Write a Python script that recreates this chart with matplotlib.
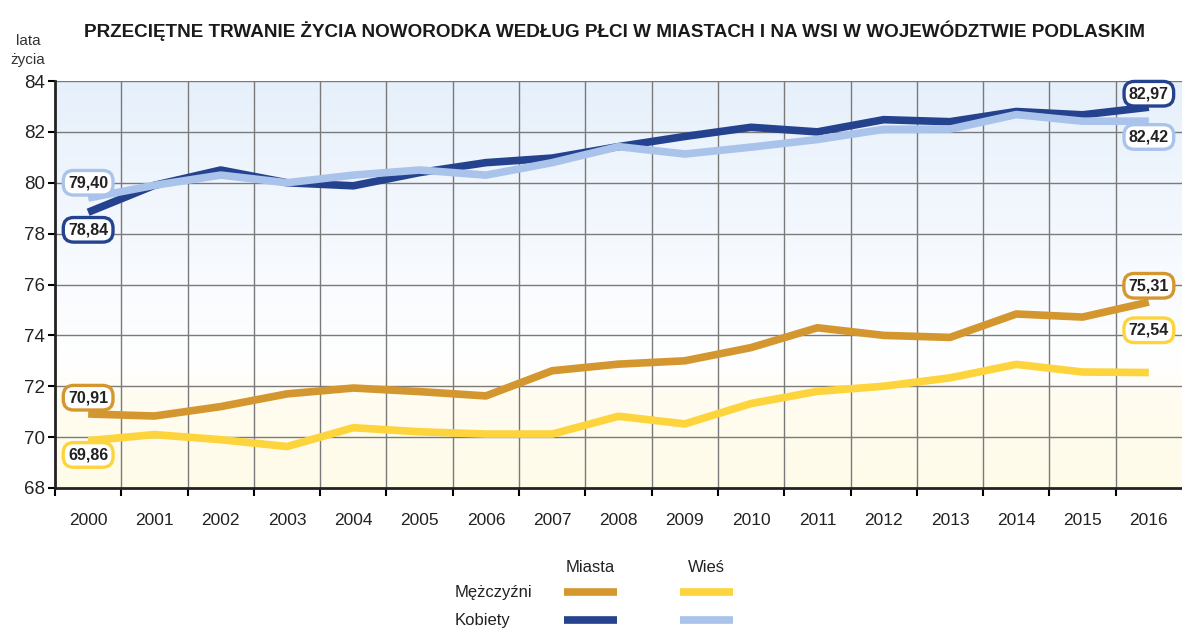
import numpy as np
import matplotlib.pyplot as plt
from matplotlib.colors import LinearSegmentedColormap
from matplotlib.lines import Line2D

# --------------------------------------------------------
# DATA
# --------------------------------------------------------
years = [str(y) for y in range(2000, 2017)]

men_city = [70.91, 70.83, 71.20, 71.70, 71.93, 71.79, 71.62, 72.61, 72.87, 73.00,
            73.52, 74.30, 74.00, 73.92, 74.84, 74.72, 75.31]
men_village = [69.86, 70.10, 69.90, 69.63, 70.37, 70.21, 70.12, 70.12, 70.82, 70.52,
               71.32, 71.80, 72.00, 72.33, 72.86, 72.56, 72.54]
women_city = [78.84, 79.90, 80.50, 80.00, 79.88, 80.40, 80.79, 80.97, 81.42, 81.82,
              82.18, 82.00, 82.48, 82.40, 82.80, 82.67, 82.97]
women_village = [79.40, 79.90, 80.30, 80.00, 80.30, 80.50, 80.30, 80.79, 81.42, 81.13,
                 81.40, 81.70, 82.10, 82.11, 82.68, 82.42, 82.42]

y_ticks = [68, 70, 72, 74, 76, 78, 80, 82, 84]

C_MEN_CITY = "#d4972f"
C_MEN_VIL = "#fdd43c"
C_WOM_CITY = "#25428f"
C_WOM_VIL = "#a9c3eb"

plt.rcParams["font.family"] = ["Liberation Sans", "DejaVu Sans"]

# --------------------------------------------------------
# FIGURE
# --------------------------------------------------------
fig = plt.figure(figsize=(11.82, 6.31), dpi=100)
ax = fig.add_axes([55 / 1182, 1 - 488 / 631, 1 - 55 / 1182, (488 - 81) / 631])

x = np.arange(len(years))
ax.set_xlim(-0.5, len(years) - 0.5)
ax.set_ylim(68, 84)

# background gradient
cmap = LinearSegmentedColormap.from_list(
    "bg", [(0, "#fffbe9"), (0.22, "#fffcf0"), (0.3, "#ffffff"), (0.55, "#f7fafe"), (1, "#e6f0fb")])
grad = np.linspace(0, 1, 256).reshape(-1, 1)
ax.imshow(grad, cmap=cmap, aspect="auto", origin="lower",
          extent=[-0.5, len(years) - 0.5, 68, 84], zorder=0)

# grid
for gx in np.arange(0.5, len(years) - 0.5, 1):
    ax.axvline(gx, color="#7a7a7a", lw=1, zorder=1)
for gy in y_ticks[1:]:
    ax.axhline(gy, color="#7a7a7a", lw=1, zorder=1)

lw = 5.5
ax.plot(x, men_village, color=C_MEN_VIL, lw=lw, zorder=3, solid_capstyle="butt")
ax.plot(x, men_city, color=C_MEN_CITY, lw=lw, zorder=3, solid_capstyle="butt")
ax.plot(x, women_city, color=C_WOM_CITY, lw=lw, zorder=3, solid_capstyle="butt")
ax.plot(x, women_village, color=C_WOM_VIL, lw=lw, zorder=4, solid_capstyle="butt")

# axes styling
for s in ["top", "right"]:
    ax.spines[s].set_visible(False)
for s in ["left", "bottom"]:
    ax.spines[s].set_linewidth(2)
    ax.spines[s].set_color("#222222")

ax.set_yticks(y_ticks)
ax.set_yticklabels([str(v) for v in y_ticks], fontsize=13.5, color="#222222")
ax.tick_params(axis="y", length=5, width=1.5, pad=2)

ax.set_xticks(np.arange(-0.5, len(years) - 0.5, 1))
ax.set_xticklabels([])
ax.set_xticks(x, minor=True)
ax.set_xticklabels(years, minor=True, fontsize=12.5, color="#222222")
ax.tick_params(axis="x", which="major", length=6, width=1.5)
ax.tick_params(axis="x", which="minor", length=0, pad=18)


def label(xv, yv, val, col):
    ax.text(xv, yv, f"{val:.2f}".replace(".", ","), ha="center", va="center",
            fontsize=11.5, fontweight="bold", color="#222222", zorder=6,
            bbox=dict(boxstyle="round,pad=0.3,rounding_size=0.65", fc="white", ec=col, lw=2.4))


label(0, 80.0, women_village[0], C_WOM_VIL)
label(0, 78.15, women_city[0], C_WOM_CITY)
label(0, 71.55, men_city[0], C_MEN_CITY)
label(0, 69.3, men_village[0], C_MEN_VIL)
label(16, 83.5, women_city[-1], C_WOM_CITY)
label(16, 81.8, women_village[-1], C_WOM_VIL)
label(16, 75.95, men_city[-1], C_MEN_CITY)
label(16, 74.2, men_village[-1], C_MEN_VIL)

# title & unit
fig.text(615 / 1182, 1 - 31 / 631,
         "PRZECIĘTNE TRWANIE ŻYCIA NOWORODKA WEDŁUG PŁCI W MIASTACH I NA WSI W WOJEWÓDZTWIE PODLASKIM",
         ha="center", va="center", fontsize=13.6, fontweight="bold", color="#1a1a1a")
fig.text(28 / 1182, 1 - 41 / 631, "lata", ha="center", va="center", fontsize=11, color="#333333")
fig.text(28 / 1182, 1 - 60 / 631, "życia", ha="center", va="center", fontsize=11, color="#333333")

# legend
fig.text(590 / 1182, 1 - 567 / 631, "Miasta", ha="center", va="center", fontsize=12, color="#222222")
fig.text(706 / 1182, 1 - 567 / 631, "Wieś", ha="center", va="center", fontsize=12, color="#222222")
fig.text(455 / 1182, 1 - 593 / 631, "Mężczyźni", ha="left", va="center", fontsize=12, color="#222222")
fig.text(455 / 1182, 1 - 620 / 631, "Kobiety", ha="left", va="center", fontsize=12, color="#222222")
for (x0, x1), yy, col in [((564, 617), 592, C_MEN_CITY), ((680, 733), 592, C_MEN_VIL),
                          ((564, 617), 620, C_WOM_CITY), ((680, 733), 620, C_WOM_VIL)]:
    fig.add_artist(Line2D([x0 / 1182, x1 / 1182], [1 - yy / 631] * 2, color=col, lw=5.5,
                          solid_capstyle="butt", transform=fig.transFigure))

fig.savefig("out.png", dpi=100, facecolor="white")
